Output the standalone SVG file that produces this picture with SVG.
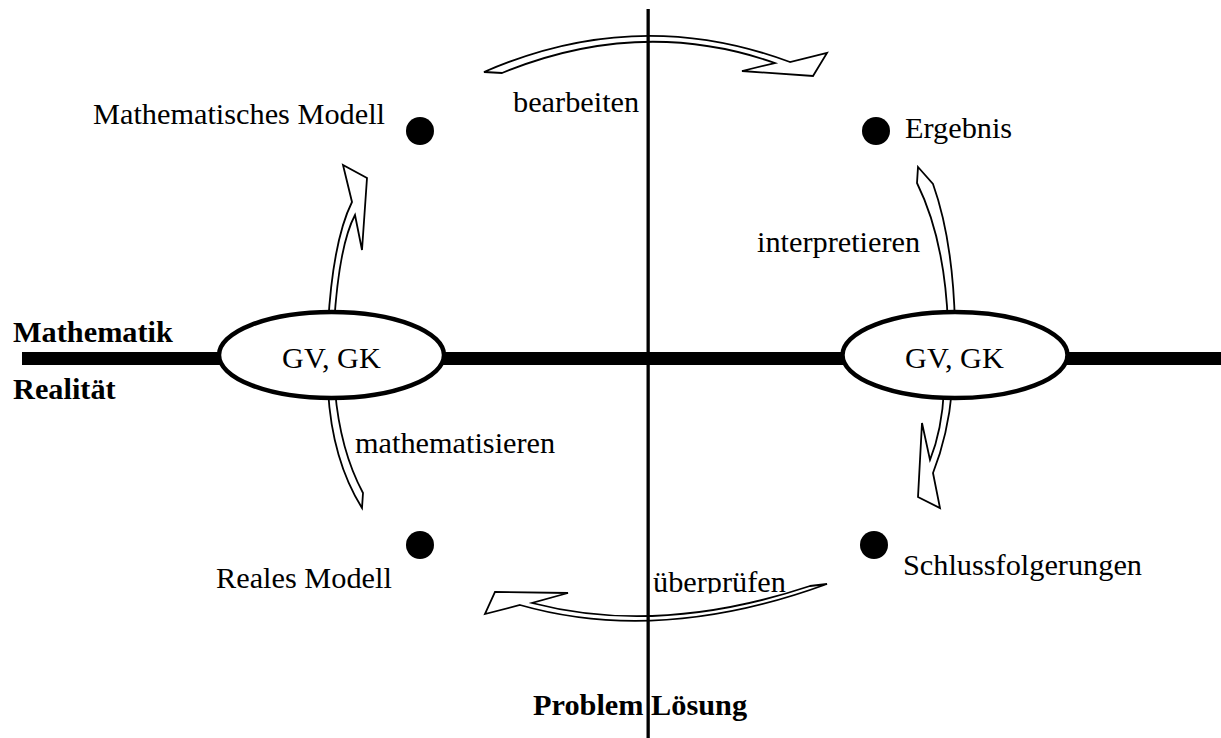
<svg xmlns="http://www.w3.org/2000/svg" width="1221" height="738" viewBox="0 0 1221 738">
<style>
text{font-family:"Liberation Serif","Times New Roman",serif;font-size:30.3px;fill:#000}
.b{font-weight:bold}
.arrow{fill:#fff;stroke:#000;stroke-width:1.8;stroke-linejoin:miter}
.ell{fill:#fff;stroke:#000;stroke-width:4.5}
.dot{fill:#000}
</style>
<defs>
<clipPath id="clipU"><rect x="640" y="540" width="200" height="53.5"/></clipPath>
</defs>
<rect width="1221" height="738" fill="#fff"/>
<g id="axes">
<rect x="22" y="352" width="1199" height="13" fill="#000"/>
</g>
<g id="connectors">
<path class="arrow" d="M484,72 Q637,5 790,62 L827,53 L813,76 L742,71 L775,63 Q641,16 502,73 Z"/>
<path class="arrow" d="M918,167 L933,184 Q953,240 955,325 L948,325 Q945,240 917,183 Z"/>
<path class="arrow" d="M944,390 Q942,430 930,460 L922,423 L918,497 L940,508 L933,473 Q948,435 952,390 Z"/>
<path class="arrow" d="M328,325 Q333,240 352,202 L343,165 L367,178 L362,250 L355,215 Q339,245 334,325 Z"/>
<path class="arrow" d="M328,390 Q332,460 362,508 L363,493 Q340,450 335,390 Z"/>
<path class="arrow" d="M827,584 Q660,645 520,605 L485,614 L495,592 L568,593 L532,603 Q659,636 810,586 Z"/>
</g>
<g id="vaxis">
<rect x="646.5" y="9" width="3.3" height="729" fill="#000"/>
</g>
<g id="gvgk-left">
<ellipse class="ell" cx="331.5" cy="355" rx="112.5" ry="43"/>
<text x="331.5" y="368" text-anchor="middle">GV, GK</text>
</g>
<g id="gvgk-right">
<ellipse class="ell" cx="955" cy="355" rx="112.5" ry="43"/>
<text x="954.5" y="368" text-anchor="middle">GV, GK</text>
</g>
<g id="mathematisches-modell">
<circle class="dot" cx="420" cy="131" r="14"/>
<text x="93" y="124">Mathematisches Modell</text>
</g>
<g id="ergebnis">
<circle class="dot" cx="876" cy="131" r="14"/>
<text x="905" y="138">Ergebnis</text>
</g>
<g id="reales-modell">
<circle class="dot" cx="420" cy="545" r="14"/>
<text x="216" y="588">Reales Modell</text>
</g>
<g id="schlussfolgerungen">
<circle class="dot" cx="874" cy="545" r="14"/>
<text x="903" y="575">Schlussfolgerungen</text>
</g>
<g id="labels">
<text x="513" y="112">bearbeiten</text>
<text x="757" y="252">interpretieren</text>
<text x="355" y="453">mathematisieren</text>
<text x="653" y="592" clip-path="url(#clipU)">überprüfen</text>
<text class="b" x="13" y="342">Mathematik</text>
<text class="b" x="13" y="399">Realität</text>
<text class="b" x="533" y="715">Problem Lösung</text>
</g>
</svg>
